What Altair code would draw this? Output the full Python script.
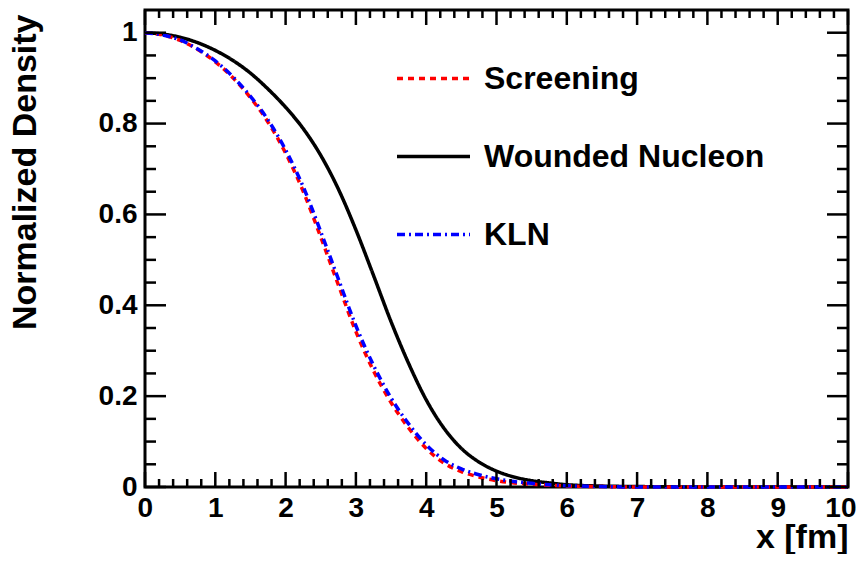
import altair as alt
import pandas as pd

# ---- data ----
X_GRID = [0.0, 0.25, 0.5, 0.75, 1.0, 1.25, 1.5, 1.75, 2.0, 2.25, 2.5, 2.75,
          3.0, 3.25, 3.5, 3.75, 4.0, 4.25, 4.5, 4.75, 5.0, 5.25, 5.5, 5.75,
          6.0, 6.5, 7.0, 8.0, 9.0, 10.0]
WOUNDED = [1.000, 0.997, 0.990, 0.978, 0.961, 0.939, 0.911, 0.876, 0.836, 0.789,
           0.730, 0.656, 0.566, 0.466, 0.364, 0.272, 0.192, 0.130, 0.085, 0.055,
           0.035, 0.022, 0.014, 0.009, 0.005, 0.002, 0.001, 0.0, 0.0, 0.0]
SCREENING = [1.000, 0.995, 0.983, 0.963, 0.936, 0.901, 0.857, 0.803, 0.735, 0.651,
             0.550, 0.445, 0.342, 0.256, 0.186, 0.130, 0.085, 0.053, 0.034, 0.022,
             0.014, 0.009, 0.006, 0.004, 0.002, 0.001, 0.0, 0.0, 0.0, 0.0]
KLN = [1.000, 0.995, 0.984, 0.964, 0.938, 0.903, 0.860, 0.808, 0.742, 0.661,
       0.562, 0.458, 0.355, 0.268, 0.196, 0.139, 0.093, 0.060, 0.040, 0.027,
       0.018, 0.012, 0.008, 0.005, 0.003, 0.001, 0.0, 0.0, 0.0, 0.0]

SERIES_ORDER = ["Screening", "Wounded Nucleon", "KLN"]
SERIES_COLORS = ["#ff0000", "#000000", "#0000ff"]
SERIES_DASH = [[6, 5], [1, 0], [8, 4, 2, 4]]

X_TICK_LABELS = [0, 1, 2, 3, 4, 5, 6, 7, 8, 9, 10]
Y_TICK_LABELS = [0, 0.2, 0.4, 0.6, 0.8, 1.0]
X_MINOR = [round(i * 0.2, 2) for i in range(51) if i % 5 != 0]
Y_MINOR = [round(i * 0.05, 2) for i in range(21) if i % 4 != 0]

W, H = 703, 477
FONT = "Liberation Sans"

rows = []
for name, vals in [("Wounded Nucleon", WOUNDED), ("Screening", SCREENING), ("KLN", KLN)]:
    for x, y in zip(X_GRID, vals):
        rows.append({"x": x, "y": y, "series": name})
df = pd.DataFrame(rows)

xscale = alt.Scale(domain=[0, 10], nice=False, zero=False)
yscale = alt.Scale(domain=[0, 1.05], nice=False, zero=False)

xaxis = alt.Axis(values=X_TICK_LABELS, format="d", ticks=False, domain=False,
                 grid=False, labelFont=FONT, labelFontSize=28,
                 labelFontWeight="bold", labelColor="black", labelPadding=7,
                 title="x [fm]", titleFont=FONT, titleFontSize=34,
                 titleFontWeight="bold", titleColor="black",
                 titleAnchor="end", titleAlign="right", titleX=W,
                 titleY=60, titleBaseline="alphabetic",
                 labelFlush=1, labelFlushOffset=8, labelOverlap=False)
yaxis = alt.Axis(values=Y_TICK_LABELS, format="~g", ticks=False, domain=False,
                 grid=False, labelFont=FONT, labelFontSize=28,
                 labelFontWeight="bold", labelColor="black", labelPadding=8,
                 title="Normalized Density", titleFont=FONT, titleFontSize=34,
                 titleFontWeight="bold", titleColor="black",
                 titleAngle=-90, titleAlign="right", titleAnchor="end",
                 titleX=-110, titleY=4, titleBaseline="alphabetic",
                 labelFlush=False, labelOverlap=False)

leg = alt.Legend(orient="none", legendX=250, legendY=30, title=None,
                 labelFont=FONT, labelFontSize=32, labelFontWeight="bold",
                 labelColor="black", symbolType="stroke", symbolSize=5329,
                 symbolStrokeWidth=3.5, labelOffset=12, rowPadding=23,
                 labelLimit=0)

lines = alt.Chart(df).mark_line(strokeWidth=3.5, interpolate="monotone").encode(
    x=alt.X("x:Q", scale=xscale, axis=xaxis),
    y=alt.Y("y:Q", scale=yscale, axis=yaxis),
    color=alt.Color("series:N", scale=alt.Scale(domain=SERIES_ORDER, range=SERIES_COLORS),
                    legend=leg),
    strokeDash=alt.StrokeDash("series:N",
                              scale=alt.Scale(domain=SERIES_ORDER, range=SERIES_DASH),
                              legend=leg),
)


def xticks(vals, length, top):
    d = pd.DataFrame({"x": vals})
    if top:
        y0, y1 = 0, length
    else:
        y0, y1 = H, H - length
    return alt.Chart(d).mark_rule(color="black", strokeWidth=2.5).encode(
        x=alt.X("x:Q", scale=xscale, axis=xaxis),
        y=alt.value(y0), y2=alt.value(y1))


def yticks(vals, length, right):
    d = pd.DataFrame({"y": vals})
    if right:
        x0, x1 = W, W - length
    else:
        x0, x1 = 0, length
    return alt.Chart(d).mark_rule(color="black", strokeWidth=2.5).encode(
        y=alt.Y("y:Q", scale=yscale, axis=yaxis),
        x=alt.value(x0), x2=alt.value(x1))


ticks = [
    xticks(X_TICK_LABELS, 15, False), xticks(X_MINOR, 8, False),
    xticks(X_TICK_LABELS, 15, True), xticks(X_MINOR, 8, True),
    yticks(Y_TICK_LABELS, 21, False), yticks(Y_MINOR, 11, False),
    yticks(Y_TICK_LABELS, 21, True), yticks(Y_MINOR, 11, True),
]

chart = alt.layer(lines, *ticks).properties(
    width=W, height=H,
    background="white",
    autosize=alt.AutoSizeParams(type="none"),
    padding={"left": 137, "top": 2, "right": 8, "bottom": 67},
).configure_view(stroke="black", strokeWidth=3)

chart.save("out.html", embed_options={"renderer": "svg", "actions": False})
